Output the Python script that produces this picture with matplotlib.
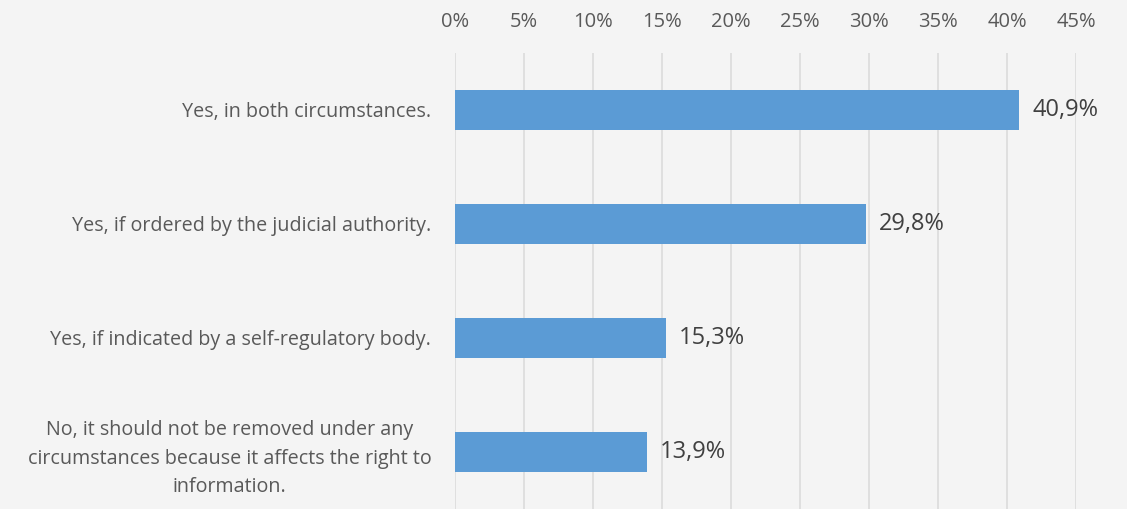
import matplotlib.pyplot as plt
from matplotlib.ticker import FuncFormatter

# answers, top to bottom
categories = [
    "Yes, in both circumstances.",
    "Yes, if ordered by the judicial authority.",
    "Yes, if indicated by a self-regulatory body.",
    "No, it should not be removed under any\ncircumstances because it affects the right to\ninformation.",
]
values = [40.9, 29.8, 15.3, 13.9]
x_ticks = [0, 5, 10, 15, 20, 25, 30, 35, 40, 45]

plt.rcParams['font.family'] = ['Open Sans', 'DejaVu Sans']
bg = '#f4f4f4'
txt = '#595959'

fig = plt.figure(figsize=(11.27, 5.09), dpi=100, facecolor=bg)
ax = fig.add_axes([0.4037, 0.0, 0.5510, 0.896], facecolor=bg)

ypos = list(range(len(categories)))
ax.barh(ypos, values, height=0.35, color='#5b9bd5', zorder=3)
for y, v in zip(ypos, values):
    ax.text(v + 0.95, y, f"{v:.1f}%".replace('.', ','), va='center', ha='left',
            fontsize=17, color='#404040')

ax.set_ylim(3.5, -0.5)
ax.set_xlim(0, 45)
ax.set_xticks(x_ticks)
ax.xaxis.set_major_formatter(FuncFormatter(lambda v, p: f"{v:.0f}%"))
ax.xaxis.tick_top()
ax.set_yticks(ypos)
ax.set_yticklabels(categories, fontsize=14.2, color=txt, linespacing=1.56)
ax.tick_params(axis='x', length=0, labelsize=14.5, labelcolor=txt, pad=15)
ax.tick_params(axis='y', length=0, pad=17)
for lbl in ax.get_yticklabels():
    lbl.set_horizontalalignment('right')
    lbl.set_multialignment('center')
ax.grid(axis='x', color='#d9d9d9', linewidth=1.1, zorder=0)
for s in ax.spines.values():
    s.set_visible(False)

fig.savefig('out.png', dpi=100, facecolor=bg)
